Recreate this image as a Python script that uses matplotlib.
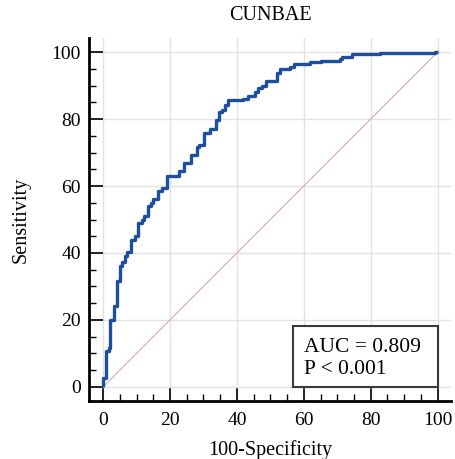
import matplotlib
matplotlib.use("Agg")
import matplotlib.pyplot as plt
from matplotlib.ticker import MultipleLocator
from matplotlib.patches import Rectangle

plt.rcParams['font.family'] = ['Liberation Serif', 'DejaVu Serif']

title = "CUNBAE"
xlabel = "100-Specificity"
ylabel = "Sensitivity"
auc_text = "AUC = 0.809"
p_text = "P < 0.001"

# ROC curve corners (100-Specificity, Sensitivity), drawn as steps
fpr = [0, 0, 0.8, 1.7, 2.0, 3.3, 4.3, 5.0, 5.8, 6.5, 7.2, 8.5, 9.5, 10.5, 11.5,
       12.2, 13.5, 14.2, 15.0, 16.3, 17.6, 19.1, 22.6, 24.2, 26.3, 28.1, 28.8,
       30.3, 32.1, 33.8, 34.8, 35.5, 36.4, 37.2, 41.7, 43.2, 45.3, 46.3, 47.6,
       48.8, 52.0, 53.0, 55.8, 57.0, 61.8, 65.0, 70.7, 71.5, 74.4, 82.9, 99.3, 100]
tpr = [0, 2.7, 10.6, 11.5, 20.0, 24.3, 31.5, 36.2, 37.2, 39.2, 40.3, 44.0, 45.0,
       49.0, 50.0, 51.0, 54.0, 55.0, 56.0, 58.4, 59.4, 63.0, 64.4, 66.8, 69.3,
       71.6, 72.2, 75.8, 77.1, 79.8, 82.0, 82.8, 84.3, 85.6, 86.1, 86.8, 88.0,
       89.2, 90.0, 91.5, 93.8, 95.0, 95.6, 96.3, 97.0, 97.4, 98.0, 98.5, 99.4,
       99.6, 100, 100]

ticks = [0, 20, 40, 60, 80, 100]

fig = plt.figure(figsize=(4.55, 4.59), dpi=100)
ax = fig.add_axes([89/455, 1 - 401/459, 362/455, 363/459])

ax.set_xlim(-4.2, 104.0)
ax.set_ylim(-4.2, 104.2)

ax.plot([0, 100], [0, 100], color='#d8aaaa', linewidth=0.8, zorder=2)
ax.plot(fpr, tpr, drawstyle='steps-post', color='#1d4f9e', linewidth=2.4,
        zorder=3, solid_capstyle='butt')

ax.set_xticks(ticks)
ax.set_yticks(ticks)
ax.xaxis.set_minor_locator(MultipleLocator(5))
ax.yaxis.set_minor_locator(MultipleLocator(5))
ax.tick_params(which='major', direction='in', length=10, width=1.2,
               labelsize=14, color='black')
ax.tick_params(axis='x', which='major', pad=8)
ax.tick_params(axis='y', which='major', pad=6)
ax.tick_params(which='minor', direction='in', length=5, width=1.0, color='black')
ax.grid(True, which='major', color='#e2e2e2', linewidth=1.0, zorder=0)
ax.set_axisbelow(True)

for s in ['top', 'right']:
    ax.spines[s].set_visible(False)
for s in ['left', 'bottom']:
    ax.spines[s].set_linewidth(2.0)
    ax.spines[s].set_color('black')

ax.set_title(title, fontsize=14.5, pad=13)
ax.set_xlabel(xlabel, fontsize=14.5, labelpad=8)
ax.set_ylabel(ylabel, fontsize=14.5, labelpad=15)

ax.add_patch(Rectangle((56.7, 0), 43.3, 18.2, fill=True, facecolor='white',
                       edgecolor='#3a3a3a', linewidth=1.5, zorder=4))
ax.text(60, 10.4, auc_text, fontsize=15.5, zorder=5, va='baseline')
ax.text(60, 3.8, p_text, fontsize=15.5, zorder=5, va='baseline')

fig.savefig("out.png", dpi=100)
